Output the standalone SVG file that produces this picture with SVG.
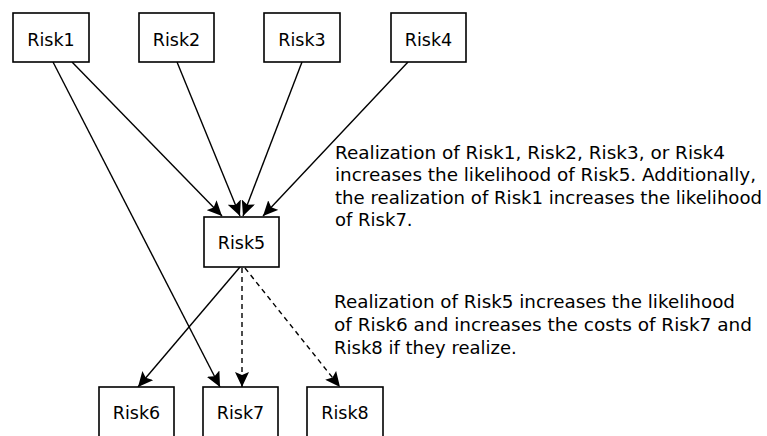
<svg xmlns="http://www.w3.org/2000/svg" width="767" height="436" viewBox="0 0 767 436">
  <style>
    .box { fill: #ffffff; stroke: #000000; stroke-width: 1.6; }
    .lbl { font-family: "DejaVu Sans", "Liberation Sans", sans-serif; font-size: 17.5px; fill: #000000; text-anchor: middle; }
    .note { font-family: "DejaVu Sans", "Liberation Sans", sans-serif; font-size: 18px; fill: #000000; }
    .edge { fill: none; stroke: #000000; stroke-width: 1.4; }
    .dash { stroke-dasharray: 5 4; }
  </style>
  <defs>
    <marker id="head" markerUnits="userSpaceOnUse" markerWidth="16" markerHeight="14" refX="15" refY="7" orient="auto">
      <path d="M0,0 L15,7 L0,14 L3,7 z" fill="#000000"/>
    </marker>
  </defs>

  <rect width="767" height="436" fill="#ffffff"/>

  <!-- connectors -->
  <g id="connectors">
    <line class="edge" x1="72" y1="62" x2="222" y2="216" marker-end="url(#head)"/>
    <line class="edge" x1="53" y1="62" x2="220" y2="387" marker-end="url(#head)"/>
    <line class="edge" x1="177" y1="62" x2="240" y2="216" marker-end="url(#head)"/>
    <line class="edge" x1="302" y1="62" x2="243" y2="216" marker-end="url(#head)"/>
    <line class="edge" x1="408" y1="62" x2="263" y2="216" marker-end="url(#head)"/>
    <line class="edge" x1="240" y1="267" x2="138" y2="387" marker-end="url(#head)"/>
    <line class="edge dash" x1="242" y1="268" x2="242" y2="387" marker-end="url(#head)"/>
    <line class="edge dash" x1="245" y1="268" x2="340" y2="387" marker-end="url(#head)"/>
  </g>

  <!-- nodes -->
  <g id="risk1">
    <rect class="box" x="13" y="13" width="76" height="49"/>
    <text class="lbl" x="51" y="46">Risk1</text>
  </g>
  <g id="risk2">
    <rect class="box" x="139" y="13" width="75" height="49"/>
    <text class="lbl" x="176.5" y="46">Risk2</text>
  </g>
  <g id="risk3">
    <rect class="box" x="264" y="13" width="76" height="49"/>
    <text class="lbl" x="302" y="46">Risk3</text>
  </g>
  <g id="risk4">
    <rect class="box" x="391" y="13" width="75" height="49"/>
    <text class="lbl" x="428.5" y="46">Risk4</text>
  </g>
  <g id="risk5">
    <rect class="box" x="204" y="217" width="75" height="50"/>
    <text class="lbl" x="241.5" y="249">Risk5</text>
  </g>
  <g id="risk6">
    <rect class="box" x="99" y="387" width="75" height="60"/>
    <text class="lbl" x="136.5" y="419">Risk6</text>
  </g>
  <g id="risk7">
    <rect class="box" x="203" y="387" width="75" height="60"/>
    <text class="lbl" x="240.5" y="419">Risk7</text>
  </g>
  <g id="risk8">
    <rect class="box" x="307" y="387" width="76" height="60"/>
    <text class="lbl" x="345" y="419">Risk8</text>
  </g>

  <!-- annotations -->
  <g id="note-upper">
    <text class="note" x="335" y="159" textLength="390" lengthAdjust="spacingAndGlyphs">Realization of Risk1, Risk2, Risk3, or Risk4</text>
    <text class="note" x="335" y="181" textLength="421" lengthAdjust="spacingAndGlyphs">increases the likelihood of Risk5. Additionally,</text>
    <text class="note" x="335" y="204" textLength="427" lengthAdjust="spacingAndGlyphs">the realization of Risk1 increases the likelihood</text>
    <text class="note" x="335" y="226">of Risk7.</text>
  </g>
  <g id="note-lower">
    <text class="note" x="334" y="308" textLength="401" lengthAdjust="spacingAndGlyphs">Realization of Risk5 increases the likelihood</text>
    <text class="note" x="334" y="331" textLength="418" lengthAdjust="spacingAndGlyphs">of Risk6 and increases the costs of Risk7 and</text>
    <text class="note" x="334" y="354">Risk8 if they realize.</text>
  </g>
</svg>
